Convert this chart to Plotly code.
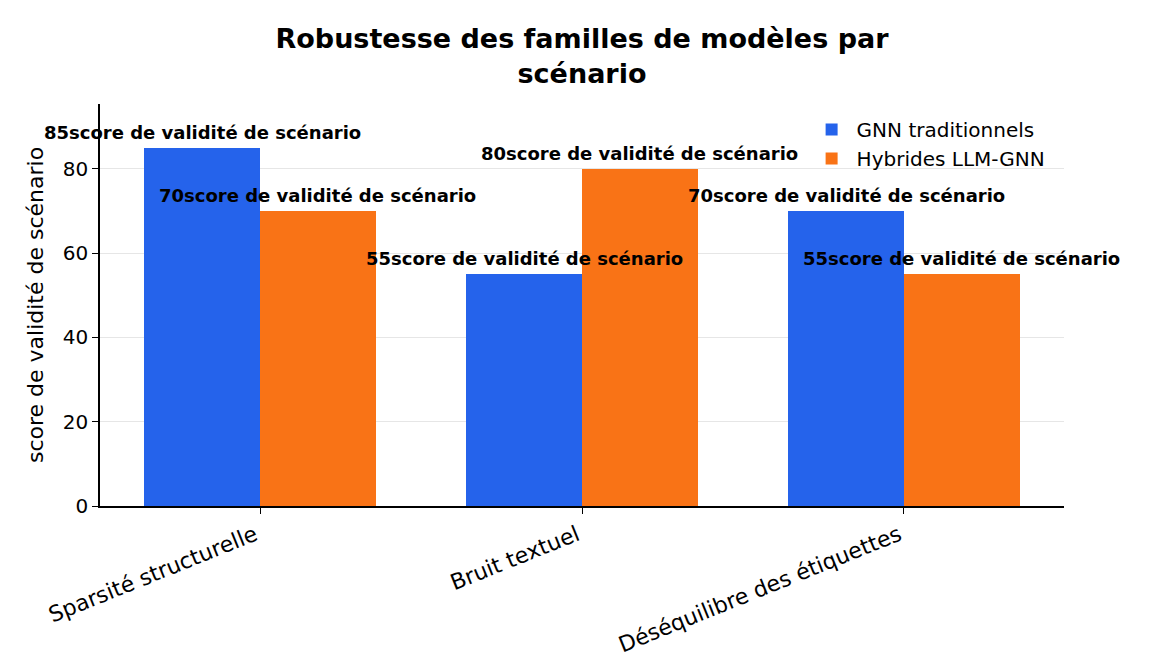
import plotly.graph_objects as go

categories = ["Sparsité structurelle", "Bruit textuel", "Déséquilibre des étiquettes"]
gnn_values = [85, 55, 70]
hybrid_values = [70, 80, 55]
series_names = ["GNN traditionnels", "Hybrides LLM-GNN"]
label_suffix = "score de validité de scénario"
y_ticks = [0, 20, 40, 60, 80]

FONT = "DejaVu Sans"
blue = "#2563eb"
orange = "#f97316"

xs = list(range(len(categories)))
width = 0.36

fig = go.Figure()
annotations = []
for vals, name, color, sign in [(gnn_values, series_names[0], blue, -1),
                                (hybrid_values, series_names[1], orange, 1)]:
    bx = [x + sign * width / 2 for x in xs]
    fig.add_trace(go.Bar(
        x=bx, y=vals, width=width, name=name,
        marker=dict(color=color, line=dict(width=0)),
    ))
    for xv, v in zip(bx, vals):
        annotations.append(dict(
            x=xv, y=v, xref="x", yref="y", text=f"<b>{v}{label_suffix}</b>",
            showarrow=False, xanchor="center", yanchor="bottom", yshift=3,
            font=dict(family=FONT, size=18, color="black"),
        ))

fig.update_layout(
    width=1152, height=672,
    margin=dict(l=100, r=88, t=104, b=166),
    paper_bgcolor="white", plot_bgcolor="white",
    font=dict(family=FONT, color="black"),
    title=dict(text="<b>Robustesse des familles de modèles par<br>scénario</b>",
               x=582 / 1152, xanchor="center", y=0.928, yanchor="top",
               font=dict(family=FONT, size=27, color="black")),
    showlegend=True,
    legend=dict(x=0.733, y=0.985, xanchor="left", yanchor="top",
                font=dict(family=FONT, size=20), bgcolor="rgba(0,0,0,0)",
                itemwidth=40, tracegroupgap=2),
    annotations=annotations,
    bargap=0,
)
fig.update_xaxes(
    range=[-0.497, 2.497], tickmode="array", tickvals=xs, ticktext=categories,
    tickangle=-22, ticks="outside", ticklen=6, tickwidth=1.2, tickcolor="black",
    showline=True, linecolor="black", linewidth=1.5, showgrid=False, zeroline=False,
    tickfont=dict(family=FONT, size=22), ticklabelshift=-5,
)
fig.update_yaxes(
    range=[0, 95.4], tickmode="array", tickvals=y_ticks,
    ticks="outside", ticklen=6, tickwidth=1.2, tickcolor="black",
    showline=True, linecolor="black", linewidth=1.5,
    showgrid=True, gridcolor="#e6e6e6", gridwidth=1, zeroline=False,
    tickfont=dict(family=FONT, size=20),
    title=dict(text="score de validité de scénario", font=dict(family=FONT, size=22), standoff=13),
)

fig.write_html("out.html")
